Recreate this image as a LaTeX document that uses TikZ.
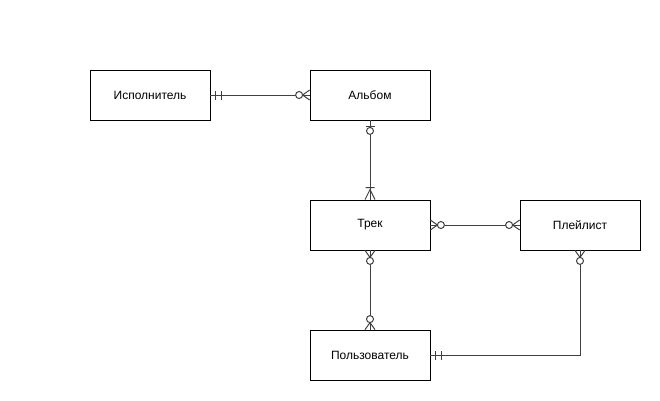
\documentclass[tikz,border=0pt]{standalone}
\usepackage{fontspec}
\setmainfont{Liberation Sans}
\begin{document}
\begin{tikzpicture}[x=1pt,y=1pt,
  entity/.style={draw=black,line width=0.8pt,fill=white,minimum width=120pt,minimum height=50pt,inner sep=0pt,
    font=\fontsize{12}{14}\selectfont},
  rel/.style={draw=black!75,line width=1pt},
  mk/.style={draw=black!75,line width=1pt},
  % markers: node edge at origin, the connector leaves along +x
  mone/.pic={\draw[mk] (5,-4.5) -- (5,4.5) (11,-4.5) -- (11,4.5);},
  zone/.pic={\draw[mk] (6,-4.5) -- (6,4.5); \draw[mk,fill=white] (10.5,0) circle[radius=3.5pt];},
  zmany/.pic={\draw[mk] (0,5) -- (7,0) -- (0,-5); \draw[mk,fill=white] (10.5,0) circle[radius=3.5pt];},
  omany/.pic={\draw[mk] (0,5) -- (10,0) -- (0,-5) (12,-4.5) -- (12,4.5);}
]
\useasboundingbox (0,0) rectangle (660,-400);

\node[entity] (artist)   at (150,-95)  {Исполнитель};
\node[entity] (album)    at (370,-95)  {Альбом};
\node[entity] (track)    at (370,-225) {Трек};
\node[entity] (playlist) at (580,-225) {Плейлист};
\node[entity] (user)     at (370,-355) {Пользователь};

% connectors
\draw[rel] (artist.east) -- (album.west);
\draw[rel] (album.south) -- (track.north);
\draw[rel] (track.east) -- (playlist.west);
\draw[rel] (track.south) -- (user.north);
\draw[rel] (playlist.south) |- (user.east);

% cardinality marks
\pic at (artist.east) {mone};
\pic[rotate=180] at (album.west) {zmany};
\pic[rotate=-90] at (album.south) {zone};
\pic[rotate=90] at (track.north) {omany};
\pic at (track.east) {zmany};
\pic[rotate=180] at (playlist.west) {zmany};
\pic[rotate=-90] at (track.south) {zmany};
\pic[rotate=90] at (user.north) {zmany};
\pic[rotate=-90] at (playlist.south) {zmany};
\pic at (user.east) {mone};
\end{tikzpicture}
\end{document}
